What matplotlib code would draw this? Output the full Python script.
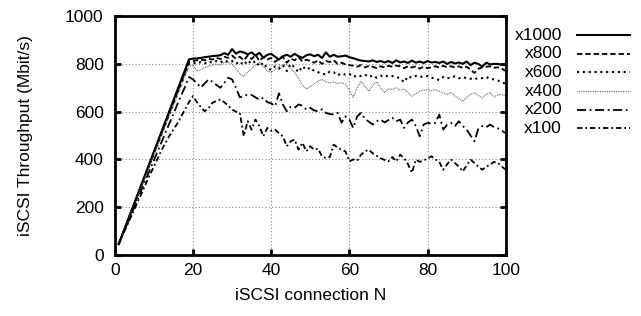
import matplotlib.pyplot as plt
from matplotlib.lines import Line2D

plt.rcParams['font.family'] = ['Liberation Sans', 'DejaVu Sans']

# connections N = 1..100
conns = list(range(1, 101))

labels = ['x1000', 'x800', 'x600', 'x400', 'x200', 'x100']

# throughput (Mbit/s)
x1000 = [45, 88, 131, 174, 217, 260, 303, 346, 389, 432, 475, 518, 561, 604, 647, 690, 733, 776, 819,
         822, 823, 825, 828, 830, 833, 834, 836, 845, 838, 862, 843, 852, 848, 840, 848, 835, 846, 826, 838,
         842, 830, 818, 832, 838, 830, 842, 832, 825, 836, 840, 832, 838, 825, 848, 830, 838, 830, 832, 835,
         828, 824, 818, 814, 812, 810, 815, 808, 812, 806, 812, 804, 815, 806, 810, 804, 814, 805, 810, 804,
         812, 806, 808, 804, 810, 800, 808, 802, 806, 800, 810, 795, 805, 800, 788, 805, 798, 800, 800, 796,
         798]
x800 = [45, 88, 130, 172, 214, 257, 299, 342, 384, 427, 469, 512, 554, 597, 639, 682, 724, 766, 808,
        812, 815, 818, 815, 822, 818, 826, 820, 830, 825, 835, 822, 830, 815, 835, 820, 838, 812, 828, 818,
        825, 808, 822, 830, 805, 822, 815, 828, 810, 818, 812, 805, 815, 800, 812, 808, 815, 800, 805, 798,
        795, 792, 788, 795, 785, 792, 788, 782, 790, 785, 792, 788, 793, 790, 782, 790, 785, 790, 780, 788,
        782, 786, 790, 785, 792, 786, 790, 785, 790, 783, 788, 775, 762, 780, 785, 788, 790, 784, 786, 780,
        770]
x600 = [45, 87, 129, 171, 213, 255, 297, 339, 381, 423, 465, 507, 549, 591, 633, 675, 717, 759, 800,
        805, 800, 808, 802, 810, 805, 812, 806, 815, 808, 812, 800, 810, 795, 815, 800, 812, 790, 805, 782,
        775, 790, 780, 795, 770, 800, 785, 765, 790, 775, 785, 770, 765, 760, 755, 768, 765, 752, 760, 755,
        758, 745, 752, 749, 755, 745, 752, 742, 750, 745, 752, 749, 745, 740, 723, 748, 742, 750, 745, 748,
        749, 742, 738, 732, 745, 740, 742, 748, 740, 745, 740, 738, 735, 742, 740, 745, 738, 735, 730, 725,
        715]
x400 = [45, 87, 128, 170, 211, 253, 294, 336, 377, 419, 460, 502, 543, 585, 626, 668, 709, 751, 790,
        795, 770, 775, 785, 790, 795, 800, 795, 805, 808, 800, 780, 758, 748, 765, 780, 795, 805, 790, 770,
        765, 775, 790, 795, 798, 780, 765, 740, 712, 695, 705, 715, 728, 735, 725, 720, 724, 718, 722, 715,
        690, 660, 700, 728, 705, 686, 710, 725, 700, 680, 695, 693, 700, 690, 695, 680, 665, 675, 686, 690,
        693, 688, 693, 685, 678, 672, 680, 665, 655, 644, 660, 672, 679, 668, 658, 672, 680, 662, 670, 672,
        665]
x200 = [45, 84, 123, 162, 200, 240, 279, 318, 357, 396, 435, 474, 513, 552, 590, 630, 668, 705, 745,
        735, 720, 701, 718, 735, 725, 712, 700, 720, 742, 735, 700, 660, 665, 672, 670, 660, 650, 658, 640,
        635, 623, 677, 630, 602, 620, 616, 630, 625, 609, 616, 605, 602, 610, 595, 590, 588, 595, 554, 580,
        567, 532, 580, 595, 570, 558, 546, 560, 567, 555, 565, 574, 560, 567, 532, 555, 567, 540, 497, 546,
        553, 550, 553, 588, 525, 545, 553, 540, 560, 540, 525, 500, 476, 530, 540, 535, 546, 535, 530, 520,
        510]
x100 = [45, 83, 118, 155, 190, 228, 262, 300, 335, 370, 405, 440, 470, 500, 525, 550, 580, 610, 640,
        665, 640, 620, 602, 615, 637, 645, 651, 640, 625, 609, 600, 595, 497, 560, 525, 567, 540, 497, 532,
        520, 525, 510, 497, 455, 476, 483, 441, 470, 434, 455, 441, 445, 413, 406, 410, 462, 450, 440, 434,
        392, 400, 395, 420, 434, 441, 425, 415, 405, 398, 392, 410, 392, 420, 405, 380, 344, 399, 390, 395,
        405, 413, 400, 390, 357, 380, 399, 385, 370, 350, 375, 399, 385, 370, 357, 370, 378, 390, 385, 370,
        357]

series = [x1000, x800, x600, x400, x200, x100]
styles = ['-', (0, (3, 1.6)), (0, (1, 1.8)), (0, (0.6, 0.8)), (0, (5, 2, 1, 2)), (0, (3, 1.6, 1, 1.6))]
widths = [1.5, 1.3, 1.5, 0.9, 1.3, 1.3]
colors = ['black', 'black', 'black', '#555555', 'black', 'black']
fs = 12.5

fig = plt.figure(figsize=(6.41, 3.16), dpi=100)
ax = fig.add_axes([0.179, 0.193, 0.61, 0.756])

for vals, ls, lw, c in zip(series, styles, widths, colors):
    ax.plot(conns, vals, color=c, linestyle=ls, linewidth=lw)

ax.set_xlim(0, 100)
ax.set_ylim(0, 1000)
ax.set_xticks([0, 20, 40, 60, 80, 100])
ax.set_yticks([0, 200, 400, 600, 800, 1000])
ax.grid(True, color='#888888', linestyle=(0, (1, 2)), linewidth=0.8)
ax.tick_params(direction='in', length=4, width=2, top=True, right=True, labelsize=fs)
ax.tick_params(axis='y', pad=8)
ax.tick_params(axis='x', pad=6)
for sp in ax.spines.values():
    sp.set_linewidth(2)

ax.set_xlabel('iSCSI connection N', fontsize=fs, labelpad=7)
ax.set_ylabel('iSCSI Throughput (Mbit/s)', fontsize=fs)
ax.yaxis.set_label_coords(-0.21, 0.5)

# gnuplot-style key outside the plot, labels right aligned
W, H = 641, 316
for i, (lab, ls, lw, c) in enumerate(zip(labels, styles, widths, colors)):
    py = 35 + i * 18.7
    fig.text(562 / W, 1 - py / H, lab, ha='right', va='center', fontsize=fs)
    fig.add_artist(Line2D([577 / W, 630 / W], [1 - py / H, 1 - py / H],
                          color=c, linestyle=ls, linewidth=lw))

plt.savefig('out.png', dpi=100)
